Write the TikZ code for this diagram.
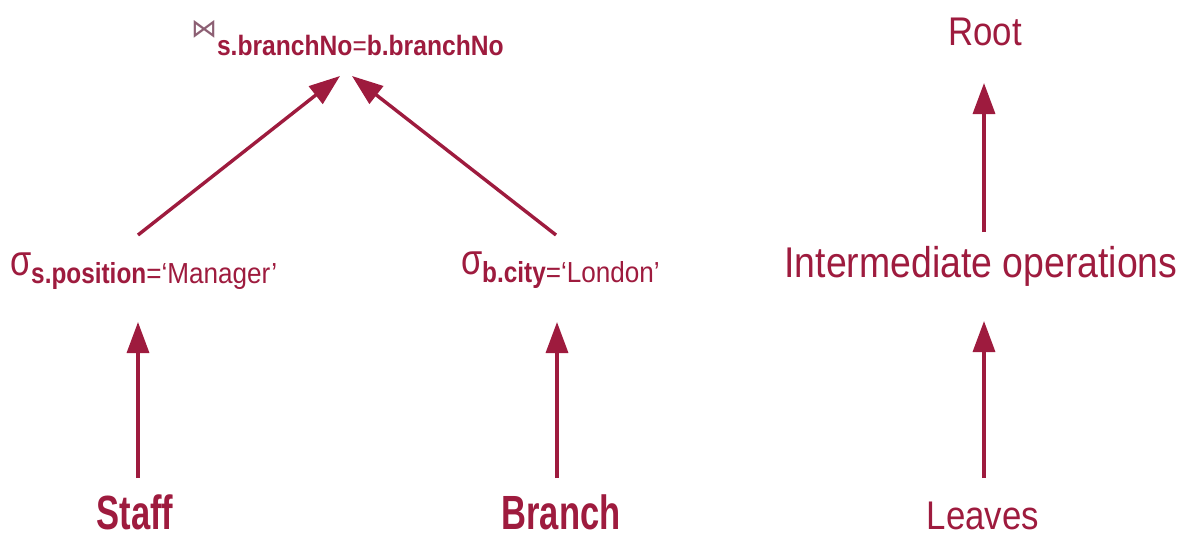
\documentclass[tikz,border=0pt]{standalone}
\usepackage{fontspec}
\setmainfont{Liberation Sans}
\newfontfamily\regnarrow[FakeStretch=0.87]{Liberation Sans}
\newfontfamily\boldnarrow[FakeStretch=0.72]{Liberation Sans Bold}
\newfontfamily\sigmafont[FakeStretch=0.8]{Liberation Sans}
\newfontfamily\subbold[FakeStretch=0.84]{Liberation Sans Bold}
\newfontfamily\subreg[FakeStretch=0.9]{Liberation Sans}
\newfontfamily\joinbold[FakeStretch=0.88]{Liberation Sans Bold}
\newfontfamily\joinreg[FakeStretch=0.87]{Liberation Sans}
\newfontfamily\symbolfont{DejaVu Sans}
\usetikzlibrary{arrows.meta}
\definecolor{wine}{RGB}{158,27,62}
\definecolor{bowtiegrey}{RGB}{140,95,115}

\begin{document}
\begin{tikzpicture}[x=1pt,y=-1pt,
  every node/.style={inner sep=0pt,outer sep=0pt,text=wine},
  relname/.style={font=\boldnarrow\fontsize{48}{50}\selectfont,anchor=base},
  levelname/.style={font=\regnarrow\fontsize{40}{44}\selectfont,anchor=base},
  opnode/.style={anchor=base west},
  arr/.style={draw=wine,line width=3.4pt,-{Triangle[length=31pt,width=22pt]}}]

  \useasboundingbox (0,0) rectangle (1190,536);

  % ---- query tree ----
  \node[anchor=west,text=bowtiegrey] (bowtie) at (191,29)
    {\symbolfont\fontsize{26}{26}\selectfont ⋈};
  \node[opnode] (join) at (217,55)
    {\fontsize{28}{30}\selectfont\joinbold s.branchNo\joinreg =\joinbold b.branchNo};

  \node[opnode] (selS) at (10,275)
    {\sigmafont\fontsize{43}{44}\selectfont σ\raisebox{-8pt}{\fontsize{29}{30}\selectfont\subbold s.position\subreg =‘Manager’}};
  \node[opnode] (selB) at (461,274)
    {\sigmafont\fontsize{43}{44}\selectfont σ\raisebox{-8pt}{\fontsize{29}{30}\selectfont\subbold b.city\subreg =‘London’}};

  \node[relname] (staff) at (135,529) {Staff};
  \node[relname] (branch) at (561,529) {Branch};

  % connector end points
  \coordinate (join-l) at (340,76);
  \coordinate (join-r) at (352,76);
  \coordinate (selS-up) at (138,235);
  \coordinate (selB-up) at (556,235);
  \coordinate (selS-down) at (138,322);
  \coordinate (selB-down) at (557,322);
  \coordinate (staff-up) at (138,478);
  \coordinate (branch-up) at (557,478);

  \draw[arr] (selS-up) -- (join-l);
  \draw[arr] (selB-up) -- (join-r);
  \draw[arr] (staff-up) -- (selS-down);
  \draw[arr] (branch-up) -- (selB-down);

  % ---- legend column ----
  \node[levelname] (root) at (985,45) {Root};
  \node[levelname,font=\regnarrow\fontsize{43}{46}\selectfont] (inter) at (981,277) {Intermediate operations};
  \node[levelname] (leaves) at (983,529) {Leaves};

  \coordinate (root-down) at (984,83);
  \coordinate (inter-up) at (984,232);
  \coordinate (inter-down) at (984,321);
  \coordinate (leaves-up) at (984,478);

  \draw[arr] (inter-up) -- (root-down);
  \draw[arr] (leaves-up) -- (inter-down);
\end{tikzpicture}
\end{document}
